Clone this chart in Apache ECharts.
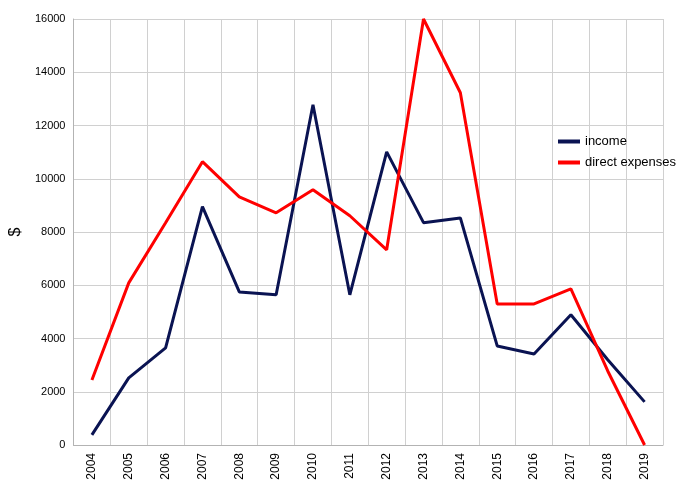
<!DOCTYPE html>
<html>
<head>
<meta charset="utf-8">
<script src="https://cdn.jsdelivr.net/npm/echarts@6/dist/echarts.min.js"></script>
<style>html,body{margin:0;padding:0;background:#fff}#chart{width:700px;height:491px}</style>
</head>
<body>
<div id="chart"></div>
<script>
// 年份与数据
const years = ['2004','2005','2006','2007','2008','2009','2010','2011','2012','2013','2014','2015','2016','2017','2018','2019'];
const income = [380, 2520, 3650, 8950, 5750, 5640, 12780, 5640, 11010, 8350, 8530, 3720, 3420, 4890, 3200, 1620];
const directExpenses = [2440, 6090, 8350, 10640, 9320, 8720, 9590, 8610, 7330, 16000, 13230, 5300, 5300, 5860, 2780, 0];

const chart = echarts.init(document.getElementById('chart'));

const option = {
    animation: false,
    textStyle: { fontFamily: 'Liberation Sans, Arial, sans-serif' },
    grid: { left: 63, right: 37, top: 19, bottom: 46, containLabel: false },
    legend: {
        orient: 'vertical',
        left: 553,
        top: 130,
        itemWidth: 22,
        itemHeight: 4,
        itemGap: 8,
        icon: 'rect',
        textStyle: { fontSize: 13, color: '#000' },
        data: ['income', 'direct expenses']
    },
    xAxis: {
        type: 'category',
        data: years,
        boundaryGap: true,
        axisLine: { lineStyle: { color: '#b3b3b3' } },
        axisTick: { show: false },
        axisLabel: { rotate: 90, color: '#000', fontSize: 12 },
        splitLine: { show: true, lineStyle: { color: '#d0d0d0' } }
    },
    yAxis: {
        type: 'value',
        min: 0,
        max: 16000,
        interval: 2000,
        name: '$',
        nameLocation: 'middle',
        nameGap: 48,
        nameRotate: 90,
        nameTextStyle: { fontSize: 16, color: '#000' },
        axisLine: { show: true, lineStyle: { color: '#b3b3b3' } },
        axisTick: { show: false },
        axisLabel: { color: '#000', fontSize: 11, formatter: v => String(v) },
        splitLine: { lineStyle: { color: '#d0d0d0' } }
    },
    series: [
        {
            name: 'income',
            type: 'line',
            data: income,
            symbol: 'none',
            lineStyle: { color: '#0a1352', width: 3 },
            itemStyle: { color: '#0a1352' }
        },
        {
            name: 'direct expenses',
            type: 'line',
            data: directExpenses,
            symbol: 'none',
            lineStyle: { color: '#ff0000', width: 3 },
            itemStyle: { color: '#ff0000' }
        }
    ]
};

chart.setOption(option);
</script>
</body>
</html>
